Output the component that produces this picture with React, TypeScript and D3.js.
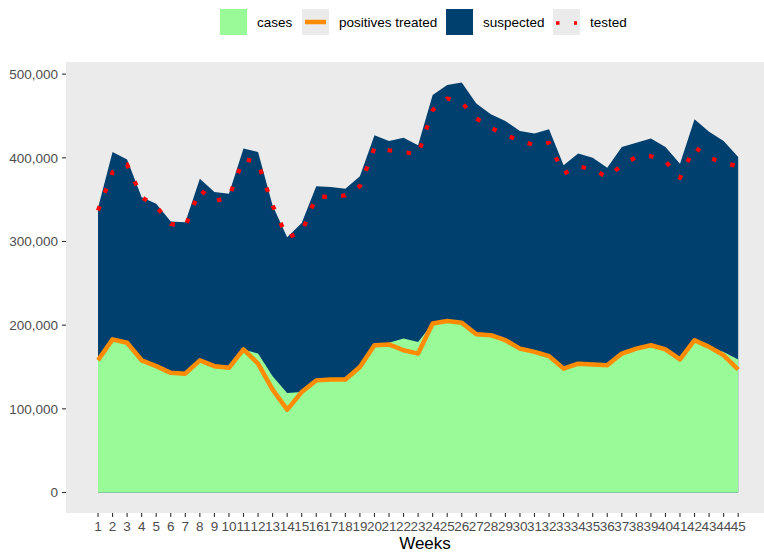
import * as d3 from "d3";
import { useEffect, useRef } from "react";

const weeks = [
  1, 2, 3, 4, 5, 6, 7, 8, 9, 10, 11, 12, 13, 14, 15, 16, 17, 18, 19, 20, 21, 22, 23,
  24, 25, 26, 27, 28, 29, 30, 31, 32, 33, 34, 35, 36, 37, 38, 39, 40, 41, 42, 43, 44, 45,
];

const suspected = [
  340000, 407000, 398000, 353000, 345000, 324000, 323000, 375000, 359000, 357000,
  411000, 407000, 343000, 305000, 322000, 366000, 365000, 363000, 378000, 427000,
  420000, 424000, 415000, 475000, 487000, 490000, 465000, 452000, 444000, 432000,
  429000, 434000, 391000, 405000, 400000, 388000, 413000, 418000, 423000, 413000,
  393000, 446000, 431000, 420000, 401000,
];

const tested = [
  337000, 383000, 392000, 353000, 342000, 321000, 318000, 362000, 348000, 353000,
  399000, 394000, 343000, 305000, 311000, 354000, 353000, 355000, 366000, 412000,
  409000, 407000, 404000, 457000, 471000, 466000, 447000, 436000, 427000, 421000,
  415000, 418000, 381000, 390000, 386000, 377000, 391000, 401000, 402000, 396000,
  376000, 413000, 400000, 394000, 390000,
];

const cases = [
  158000, 183000, 179000, 158000, 151000, 143000, 142000, 158000, 151000, 149000,
  171000, 166000, 139000, 119000, 120000, 134000, 135000, 135000, 150000, 176000,
  179000, 184000, 180000, 202000, 205000, 203000, 189000, 188000, 182000, 172000,
  168000, 163000, 148000, 154000, 153000, 152000, 166000, 172000, 176000, 171000,
  159000, 182000, 174000, 168000, 159000,
];

const positivesTreated = [
  158000, 183000, 179000, 158000, 151000, 143000, 142000, 158000, 151000, 149000,
  171000, 154000, 123000, 99000, 120000, 134000, 135000, 135000, 150000, 176000,
  177000, 170000, 166000, 202000, 205000, 203000, 189000, 188000, 182000, 172000,
  168000, 163000, 148000, 154000, 153000, 152000, 166000, 172000, 176000, 171000,
  159000, 182000, 174000, 164000, 147000,
];

const yTicks = [0, 100000, 200000, 300000, 400000, 500000];

const legendItems = [
  { label: "cases", kind: "fill", color: "#98FB98" },
  { label: "positives treated", kind: "line", color: "#FF8C00" },
  { label: "suspected", kind: "fill", color: "#00406E" },
  { label: "tested", kind: "dots", color: "#FF0000" },
];

const W = 764;
const H = 554;
const FONT = "'Liberation Sans', Arial, sans-serif";

export default function App() {
  const svgRef = useRef<SVGSVGElement | null>(null);

  useEffect(() => {
    const svg = d3.select(svgRef.current);
    svg.selectAll("*").remove();

    const panel = { left: 66, right: 770.2, top: 62, bottom: 513 };

    // continuous x with 5% expansion, like ggplot
    const xSpan = weeks[weeks.length - 1] - weeks[0];
    const x = d3
      .scaleLinear()
      .domain([weeks[0] - xSpan * 0.05, weeks[weeks.length - 1] + xSpan * 0.05])
      .range([panel.left, panel.right]);

    const yMax = d3.max(suspected) as number;
    const y = d3
      .scaleLinear()
      .domain([-yMax * 0.05, yMax * 1.05])
      .range([panel.bottom, panel.top]);

    svg
      .append("rect")
      .attr("x", panel.left)
      .attr("y", panel.top)
      .attr("width", panel.right - panel.left)
      .attr("height", panel.bottom - panel.top)
      .attr("fill", "#EBEBEB");

    const plot = svg.append("g");

    const areaOf = (vals: number[]) =>
      d3
        .area<number>()
        .x((_, i) => x(weeks[i]))
        .y0(y(0))
        .y1((d) => y(d))(vals);

    const lineOf = (vals: number[]) =>
      d3
        .line<number>()
        .x((_, i) => x(weeks[i]))
        .y((d) => y(d))(vals);

    plot.append("path").attr("d", areaOf(suspected)).attr("fill", "#00406E");
    plot.append("path").attr("d", areaOf(cases)).attr("fill", "#98FB98");

    plot
      .append("path")
      .attr("d", lineOf(positivesTreated))
      .attr("fill", "none")
      .attr("stroke", "#FF8C00")
      .attr("stroke-width", 4.5)
      .attr("stroke-linejoin", "round");

    plot
      .append("path")
      .attr("d", lineOf(tested))
      .attr("fill", "none")
      .attr("stroke", "#FF0000")
      .attr("stroke-width", 4.2)
      .attr("stroke-dasharray", "4.5 14.5")
      .attr("stroke-linejoin", "round");

    // y axis
    const yAxis = svg.append("g");
    yTicks.forEach((t) => {
      yAxis
        .append("line")
        .attr("x1", panel.left - 4)
        .attr("x2", panel.left)
        .attr("y1", y(t))
        .attr("y2", y(t))
        .attr("stroke", "#333333")
        .attr("stroke-width", 1.1);
      yAxis
        .append("text")
        .attr("x", panel.left - 8)
        .attr("y", y(t))
        .attr("dy", "0.35em")
        .attr("text-anchor", "end")
        .attr("font-family", FONT)
        .attr("font-size", 13.5)
        .attr("fill", "#4D4D4D")
        .text(d3.format(",")(t));
    });

    // x axis
    const xAxis = svg.append("g");
    weeks.forEach((w) => {
      xAxis
        .append("line")
        .attr("x1", x(w))
        .attr("x2", x(w))
        .attr("y1", panel.bottom)
        .attr("y2", panel.bottom + 4)
        .attr("stroke", "#333333")
        .attr("stroke-width", 1.1);
      xAxis
        .append("text")
        .attr("x", x(w))
        .attr("y", 531)
        .attr("text-anchor", "middle")
        .attr("font-family", FONT)
        .attr("font-size", 13.5)
        .attr("fill", "#4D4D4D")
        .text(String(w));
    });

    svg
      .append("text")
      .attr("x", 425)
      .attr("y", 549)
      .attr("text-anchor", "middle")
      .attr("font-family", FONT)
      .attr("font-size", 17)
      .attr("fill", "#000000")
      .text("Weeks");

    // legend
    const keyX = [220, 302, 446, 553];
    const keyY = 9;
    const keySize = 27;
    const legend = svg.append("g");
    legendItems.forEach((item, i) => {
      const kx = keyX[i];
      legend
        .append("rect")
        .attr("x", kx)
        .attr("y", keyY)
        .attr("width", keySize)
        .attr("height", keySize - 1)
        .attr("fill", item.kind === "fill" ? item.color : "#EBEBEB");
      if (item.kind === "line") {
        legend
          .append("line")
          .attr("x1", kx + 3)
          .attr("x2", kx + keySize - 3)
          .attr("y1", keyY + 13)
          .attr("y2", keyY + 13)
          .attr("stroke", item.color)
          .attr("stroke-width", 4.5);
      }
      if (item.kind === "dots") {
        legend
          .append("line")
          .attr("x1", kx + 3)
          .attr("x2", kx + keySize - 3)
          .attr("y1", keyY + 14)
          .attr("y2", keyY + 14)
          .attr("stroke", item.color)
          .attr("stroke-width", 3.5)
          .attr("stroke-dasharray", "3.5 14.5");
      }
      legend
        .append("text")
        .attr("x", kx + keySize + 10)
        .attr("y", keyY + 13)
        .attr("dy", "0.35em")
        .attr("font-family", FONT)
        .attr("font-size", 13.5)
        .attr("fill", "#000000")
        .text(item.label);
    });
  }, []);

  return (
    <svg
      ref={svgRef}
      width={W}
      height={H}
      style={{ position: "absolute", left: 0, top: 0, background: "#FFFFFF" }}
    />
  );
}
